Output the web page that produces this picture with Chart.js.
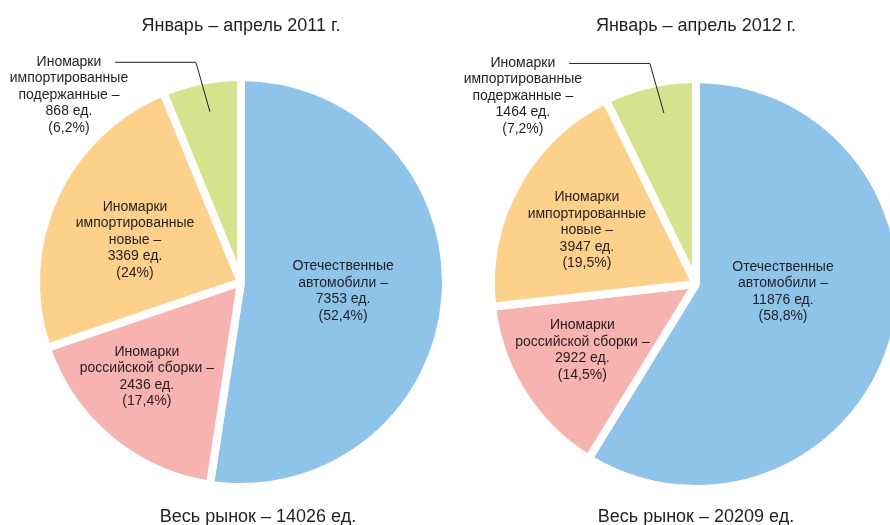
<!DOCTYPE html>
<html>
<head>
<meta charset="utf-8">
<script src="https://cdn.jsdelivr.net/npm/chart.js@4/dist/chart.umd.min.js"></script>
<style>
  body { margin: 0; background: #fff; }
  #wrap { position: relative; width: 890px; height: 525px; overflow: hidden; font-family: "Liberation Sans", Arial, sans-serif; color: #231f20; }
  canvas { position: absolute; top: 0; }
  .cap { position: absolute; width: 400px; text-align: center; font-size: 18px; line-height: 20px; white-space: nowrap; }
</style>
</head>
<body>
<div id="wrap">
  <canvas id="pie2011" width="460" height="525" style="left:0"></canvas>
  <canvas id="pie2012" width="500" height="525" style="left:445px"></canvas>
  <div class="cap" id="title2011" style="left:41px; top:15px"></div>
  <div class="cap" id="title2012" style="left:496px; top:15px"></div>
  <div class="cap" id="total2011" style="left:58px; top:506px"></div>
  <div class="cap" id="total2012" style="left:496px; top:506px"></div>
</div>
<script>
// Данные
const periods = ['Январь – апрель 2011 г.', 'Январь – апрель 2012 г.'];
const categories = [
    ['Отечественные', 'автомобили –'],
    ['Иномарки', 'российской сборки –'],
    ['Иномарки', 'импортированные', 'новые –'],
    ['Иномарки', 'импортированные', 'подержанные –']
];
const units2011 = [7353, 2436, 3369, 868];
const shares2011 = ['52,4', '17,4', '24', '6,2'];
const units2012 = [11876, 2922, 3947, 1464];
const shares2012 = ['58,8', '14,5', '19,5', '7,2'];

const colors = ['#8fc4ea', '#f7b3af', '#fdd18a', '#d6e38c'];
const textColor = '#231f20';

// Положение подписей: [доля радиуса, сдвиг угла в градусах], последняя — выноска
const labelPos2011 = [[0.50, 0.7], [0.652, 4.8], [0.556, -2.9], [0.844, 0.8]];
const labelPos2012 = [[0.426, -10.9], [0.641, 2.3], [0.593, -2.6], [0.849, 2.4]];

function sum(arr) { return arr.reduce((a, b) => a + b, 0); }

document.getElementById('title2011').textContent = periods[0];
document.getElementById('title2012').textContent = periods[1];
document.getElementById('total2011').textContent = 'Весь рынок – ' + sum(units2011) + ' ед.';
document.getElementById('total2012').textContent = 'Весь рынок – ' + sum(units2012) + ' ед.';

// Плагин подписей внутри секторов
const sliceLabels = {
    id: 'sliceLabels',
    afterDatasetsDraw(chart, args, opts) {
        const ctx = chart.ctx;
        const meta = chart.getDatasetMeta(0);
        const lh = 16.5;
        ctx.save();
        ctx.font = '14px "Liberation Sans", Arial, sans-serif';
        ctx.fillStyle = textColor;
        ctx.strokeStyle = textColor;
        ctx.textAlign = 'center';
        ctx.textBaseline = 'middle';
        meta.data.forEach((arc, i) => {
            const p = arc.getProps(['x', 'y', 'startAngle', 'endAngle', 'outerRadius'], true);
            const [frac, dA] = opts.pos[i];
            const a = (p.startAngle + p.endAngle) / 2 + dA * Math.PI / 180;
            const ax = p.x + Math.cos(a) * p.outerRadius * frac;
            const ay = p.y + Math.sin(a) * p.outerRadius * frac;
            const lines = categories[i].concat([opts.units[i] + ' ед.', '(' + opts.shares[i] + '%)']);
            if (i === 3) {
                // выноска для маленького сектора
                const cx = ax - 14, cy = ay - 50;
                const tx = cx - 127;
                const startX = tx + ctx.measureText(lines[0]).width / 2 + 14;
                ctx.lineWidth = 1;
                ctx.beginPath();
                ctx.moveTo(startX, cy + 0.5);
                ctx.lineTo(cx, cy + 0.5);
                ctx.lineTo(ax, ay);
                ctx.stroke();
                lines.forEach((t, k) => ctx.fillText(t, tx, cy + k * lh));
            } else {
                const y0 = ay - (lines.length - 1) * lh / 2;
                lines.forEach((t, k) => ctx.fillText(t, ax, y0 + k * lh));
            }
        });
        ctx.restore();
    }
};

function createPie(id, units, shares, pos, padding) {
    const ctx = document.getElementById(id).getContext('2d');
    return new Chart(ctx, {
        type: 'pie',
        data: {
            labels: categories.map(c => c.join(' ')),
            datasets: [{
                data: units,
                backgroundColor: colors,
                borderColor: '#ffffff',
                borderWidth: 8
            }]
        },
        options: {
            responsive: false,
            animation: false,
            layout: { padding: padding },
            plugins: {
                legend: { display: false },
                tooltip: { enabled: false },
                sliceLabels: { units: units, shares: shares, pos: pos }
            }
        },
        plugins: [sliceLabels]
    });
}

createPie('pie2011', units2011, shares2011, labelPos2011, { left: 32, right: 10, top: 73, bottom: 34 });
createPie('pie2012', units2012, shares2012, labelPos2012, { left: 42, right: 40, top: 75, bottom: 32 });
</script>
</body>
</html>
